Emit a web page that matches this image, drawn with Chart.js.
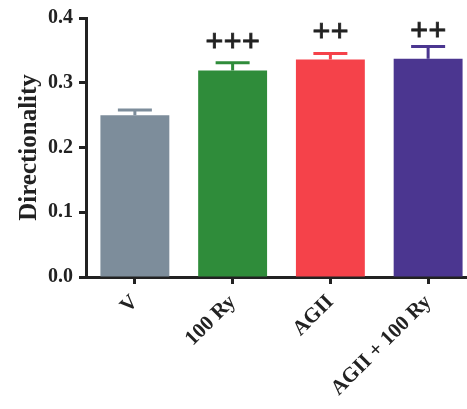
<!DOCTYPE html>
<html>
<head>
<meta charset="utf-8">
<script src="https://cdn.jsdelivr.net/npm/chart.js@4/dist/chart.umd.min.js"></script>
<style>
  html, body { margin: 0; padding: 0; background: #fff; overflow: hidden; }
  #wrap { width: 480px; height: 409px; }
</style>
</head>
<body>
<div id="wrap"><canvas id="c" width="480" height="409"></canvas></div>
<script>
// Groups and measured directionality (mean and SEM)
const groups = ['V', '100 Ry', 'AGII', 'AGII + 100 Ry'];
const means = [0.250, 0.319, 0.336, 0.337];
const sems = [0.008, 0.012, 0.009, 0.019];
const marks = ['', '+++', '++', '++'];
const yTicks = [0.0, 0.1, 0.2, 0.3, 0.4];
const barColors = ['#7d8d9b', '#2f8c3a', '#f5424a', '#4b3690'];

const serif = '"Liberation Serif", "Times New Roman", serif';
const ink = '#222222';

// Upward SEM whiskers with caps, plus significance marks above them
const errorBarPlugin = {
  id: 'errorBars',
  afterDatasetsDraw(chart, args, opts) {
    const ctx = chart.ctx;
    const y = chart.scales.y;
    const meta = chart.getDatasetMeta(0);
    meta.data.forEach((bar, i) => {
      const topPx = y.getPixelForValue(means[i]);
      const capPx = y.getPixelForValue(means[i] + sems[i]);
      ctx.save();
      ctx.strokeStyle = barColors[i];
      ctx.lineWidth = opts.lineWidth;
      ctx.beginPath();
      ctx.moveTo(bar.x, topPx);
      ctx.lineTo(bar.x, capPx);
      ctx.moveTo(bar.x - opts.capHalf, capPx);
      ctx.lineTo(bar.x + opts.capHalf, capPx);
      ctx.stroke();
      if (marks[i]) {
        ctx.fillStyle = ink;
        ctx.strokeStyle = ink;
        ctx.lineWidth = 0.8;
        ctx.font = opts.markFont;
        ctx.textAlign = 'center';
        ctx.textBaseline = 'alphabetic';
        ctx.fillText(marks[i], bar.x, capPx - opts.gaps[i]);
        ctx.strokeText(marks[i], bar.x, capPx - opts.gaps[i]);
      }
      ctx.restore();
    });
  }
};

new Chart(document.getElementById('c'), {
  type: 'bar',
  data: {
    labels: groups,
    datasets: [{
      data: means,
      backgroundColor: barColors,
      borderWidth: 0,
      categoryPercentage: 1.0,
      barPercentage: 0.705
    }]
  },
  options: {
    responsive: false,
    animation: false,
    events: [],
    layout: { padding: { top: 14, right: 3, left: 0, bottom: 0 } },
    plugins: {
      legend: { display: false },
      tooltip: { enabled: false },
      errorBars: {
        lineWidth: 3,
        capHalf: 17,
        markFont: 'bold 32px ' + serif,
        gaps: [0, 12, 13, 6]
      }
    },
    scales: {
      x: {
        grid: { display: true, offset: false, drawOnChartArea: false, drawTicks: true, tickLength: 7, tickWidth: 3, color: ink },
        border: { display: true, width: 3, color: ink },
        ticks: {
          color: ink,
          font: { family: serif, size: 21, weight: 'bold' },
          minRotation: 45,
          maxRotation: 45,
          padding: 6
        },
        afterFit(scale) { scale.height = 132; }
      },
      y: {
        min: 0,
        max: 0.4,
        grid: { display: true, drawOnChartArea: false, drawTicks: true, tickLength: 7, tickWidth: 3, color: ink },
        border: { display: true, width: 3, color: ink },
        afterBuildTicks(scale) { scale.ticks = yTicks.map(v => ({ value: v })); },
        ticks: {
          color: ink,
          font: { family: serif, size: 20, weight: 'bold' },
          padding: 6,
          callback: v => v.toFixed(1)
        },
        title: {
          display: true,
          text: 'Directionality',
          color: ink,
          font: { family: serif, size: 25, weight: 'bold' },
          padding: { top: 15, bottom: 0 }
        },
        afterFit(scale) { scale.width = 86; }
      }
    }
  },
  plugins: [errorBarPlugin]
});
</script>
</body>
</html>
